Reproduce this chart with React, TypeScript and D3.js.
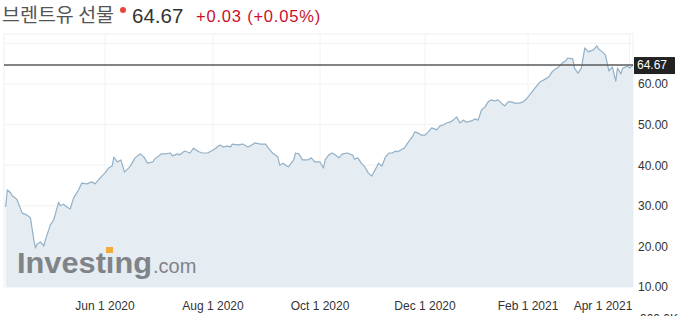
import React from 'react';
import * as d3 from 'd3';

const dates: string[] = [
  '2020-04-02','2020-04-03','2020-04-05','2020-04-06','2020-04-08','2020-04-09','2020-04-12','2020-04-15','2020-04-17','2020-04-19',
  '2020-04-20','2020-04-21','2020-04-23','2020-04-25','2020-04-26','2020-04-29','2020-05-01','2020-05-04','2020-05-05','2020-05-07',
  '2020-05-09','2020-05-11','2020-05-13','2020-05-16','2020-05-18','2020-05-21','2020-05-24','2020-05-26','2020-05-29','2020-06-01',
  '2020-06-03','2020-06-05','2020-06-06','2020-06-08','2020-06-10','2020-06-12','2020-06-15','2020-06-18','2020-06-21','2020-06-23',
  '2020-06-25','2020-06-28','2020-06-29','2020-07-03','2020-07-05','2020-07-08','2020-07-09','2020-07-12','2020-07-13','2020-07-16',
  '2020-07-19','2020-07-21','2020-07-24','2020-07-26','2020-07-29','2020-07-31','2020-08-02','2020-08-05','2020-08-07','2020-08-09',
  '2020-08-11','2020-08-12','2020-08-15','2020-08-18','2020-08-21','2020-08-23','2020-08-25','2020-08-28','2020-08-31','2020-09-01',
  '2020-09-04','2020-09-07','2020-09-08','2020-09-10','2020-09-12','2020-09-13','2020-09-16','2020-09-17','2020-09-19','2020-09-21',
  '2020-09-24','2020-09-26','2020-09-28','2020-10-01','2020-10-03','2020-10-04','2020-10-06','2020-10-08','2020-10-10','2020-10-12',
  '2020-10-14','2020-10-17','2020-10-18','2020-10-20','2020-10-21','2020-10-23','2020-10-25','2020-10-27','2020-10-29','2020-10-31',
  '2020-11-01','2020-11-03','2020-11-04','2020-11-06','2020-11-08','2020-11-10','2020-11-12','2020-11-14','2020-11-15','2020-11-18',
  '2020-11-19','2020-11-21','2020-11-24','2020-11-25','2020-11-27','2020-11-29','2020-12-01','2020-12-03','2020-12-05','2020-12-08',
  '2020-12-10','2020-12-12','2020-12-14','2020-12-16','2020-12-18','2020-12-20','2020-12-22','2020-12-24','2020-12-26','2020-12-29',
  '2020-12-31','2021-01-02','2021-01-04','2021-01-06','2021-01-08','2021-01-10','2021-01-12','2021-01-14','2021-01-16','2021-01-18',
  '2021-01-20','2021-01-22','2021-01-24','2021-01-27','2021-01-29','2021-01-31','2021-02-02','2021-02-05','2021-02-08','2021-02-11',
  '2021-02-13','2021-02-15','2021-02-17','2021-02-18','2021-02-21','2021-02-23','2021-02-24','2021-02-27','2021-02-28','2021-03-02',
  '2021-03-04','2021-03-06','2021-03-08','2021-03-11','2021-03-13','2021-03-14','2021-03-17','2021-03-18','2021-03-20','2021-03-22',
  '2021-03-24','2021-03-25','2021-03-27','2021-03-28','2021-03-31','2021-04-01','2021-04-03'
];

const prices: number[] = [
  29.7, 33.9, 33.2, 32.4, 31.9, 31.4, 28.2, 27.7, 27.0, 21.6,
  19.6, 20.6, 21.1, 20.1, 21.6, 25.3, 26.5, 30.9, 30.0, 30.4,
  29.7, 29.2, 31.9, 33.9, 35.6, 35.4, 35.9, 35.4, 36.8, 38.1,
  39.3, 39.8, 42.0, 40.8, 41.3, 38.3, 39.6, 41.8, 42.8, 42.0,
  40.5, 40.8, 41.5, 42.8, 42.8, 43.0, 42.3, 42.8, 42.5, 43.5,
  43.0, 44.2, 43.3, 43.0, 43.0, 43.5, 44.0, 45.0, 44.5, 44.7,
  44.5, 45.2, 45.0, 45.2, 44.5, 45.0, 45.5, 45.2, 45.2, 44.5,
  43.0, 42.0, 40.0, 40.5, 39.8, 39.6, 41.3, 43.0, 42.8, 41.3,
  41.3, 41.8, 40.8, 40.8, 39.3, 41.3, 42.5, 43.0, 42.5, 41.8,
  42.8, 43.0, 42.8, 42.5, 41.5, 41.8, 40.5, 39.6, 38.1, 37.3,
  38.1, 39.6, 40.5, 39.8, 42.0, 43.0, 43.0, 43.5, 43.3, 44.0,
  44.2, 45.5, 47.2, 48.2, 47.9, 47.4, 47.4, 48.2, 49.2, 48.7,
  49.7, 49.9, 50.4, 50.6, 51.1, 51.9, 50.4, 51.1, 50.6, 50.9,
  51.4, 51.1, 53.6, 54.3, 55.6, 56.1, 55.8, 56.1, 55.3, 54.6,
  55.6, 55.6, 55.3, 55.3, 55.6, 56.3, 57.3, 59.0, 60.5, 61.2,
  61.7, 63.0, 63.7, 63.9, 65.2, 65.7, 66.4, 66.2, 63.9, 62.7,
  63.9, 68.9, 67.9, 68.4, 69.4, 68.6, 67.6, 67.1, 63.2, 64.2,
  60.7, 63.9, 62.5, 63.9, 64.4, 63.9, 64.67
];

const xTickDates: string[] = ['2020-06-01', '2020-08-01', '2020-10-01', '2020-12-01', '2021-02-01', '2021-04-01'];
const xTickLabels: string[] = ['Jun 1 2020', 'Aug 1 2020', 'Oct 1 2020', 'Dec 1 2020', 'Feb 1 2021', 'Apr 1 2021'];
const yTicks: number[] = [10, 20, 30, 40, 50, 60];
const gridValues: number[] = [20, 30, 40, 50, 60, 70];
const lastPrice = 64.67;
const titleText = '브렌트유 선물';
const priceText = '64.67';
const changeText = '+0.03 (+0.05%)';
const volumeLabel = '300.0K';

const W = 680;
const H = 316;
const plotLeft = 4;
const plotRight = 633;
const plotTop = 34;
const plotBottom = 287;
const FONT = "Arial, 'Liberation Sans', sans-serif";

export default function App() {
  const parse = d3.timeParse('%Y-%m-%d');
  const data = dates.map((d, i) => ({ date: parse(d) as Date, value: prices[i] }));

  // piecewise time scale (trading-day spacing of the original chart)
  const x = d3
    .scaleTime()
    .domain([
      parse('2020-04-01') as Date,
      parse('2020-06-01') as Date,
      parse('2020-08-01') as Date,
      parse('2020-10-01') as Date,
      parse('2020-12-01') as Date,
      parse('2021-02-01') as Date,
      parse('2021-04-03') as Date,
    ])
    .range([plotLeft, 105, 213, 320, 425, 528, plotRight]);

  const y = d3.scaleLinear().domain([10, 60]).range([plotBottom, 84]);

  const line = d3
    .line<{ date: Date; value: number }>()
    .x((d) => x(d.date))
    .y((d) => y(d.value));
  const area = d3
    .area<{ date: Date; value: number }>()
    .x((d) => x(d.date))
    .y0(plotBottom)
    .y1((d) => y(d.value));

  const lastY = y(lastPrice);

  return (
    <svg
      width={W}
      height={H}
      style={{ position: 'absolute', left: 0, top: 0, background: '#fff' }}
      fontFamily={FONT}
    >
      {/* header */}
      <text x={2} y={22} fontSize={19.5} fill="#555" fontFamily="'Noto Sans CJK KR', sans-serif">
        {titleText}
      </text>
      <circle cx={123} cy={10} r={3} fill="#e8453c" />
      <text x={132} y={23} fontSize={20.5} fill="#333">
        {priceText}
      </text>
      <text x={196} y={22} fontSize={16.5} fill="#c8102e" letterSpacing={0.8}>
        {changeText}
      </text>

      {/* plot frame */}
      <rect x={plotLeft} y={plotTop} width={plotRight - plotLeft} height={plotBottom - plotTop} fill="#fff" stroke="#eef0f2" />

      {/* grid */}
      {gridValues.map((v) => (
        <line key={'g' + v} x1={plotLeft} x2={plotRight} y1={y(v)} y2={y(v)} stroke="#f0f2f4" strokeWidth={1} />
      ))}
      {xTickDates.map((d) => {
        const px = x(parse(d) as Date);
        return <line key={'v' + d} x1={px} x2={px} y1={plotTop} y2={plotBottom} stroke="#f0f2f4" strokeWidth={1} />;
      })}

      {/* area + line */}
      <path d={area(data) || ''} fill="#e5edf3" />
      <path d={line(data) || ''} fill="none" stroke="#93b0c7" strokeWidth={1.2} strokeLinejoin="round" />

      {/* watermark logo */}
      <g opacity={0.85}>
        <text x={17} y={273} fontSize={29} fontWeight="bold" fill="#6f7175" textLength={135} lengthAdjust="spacingAndGlyphs">
          Investıng
        </text>
        <rect x={106} y={247} width={7} height={6} fill="#f4a31d" />
        <text x={153} y={273} fontSize={20} fill="#6f7175">
          .com
        </text>
      </g>

      {/* last price line */}
      <line x1={plotLeft} x2={plotRight} y1={lastY} y2={lastY} stroke="#5a5a5a" strokeWidth={1.6} />
      <rect x={634} y={lastY - 8} width={41} height={17} fill="#222" />
      <text x={637} y={lastY} dy="0.36em" fontSize={12} fill="#fff">
        {lastPrice.toFixed(2)}
      </text>

      {/* y axis labels */}
      {yTicks.map((v) => (
        <text key={'y' + v} x={638} y={y(v)} dy="0.36em" fontSize={12} fill="#333">
          {v.toFixed(2)}
        </text>
      ))}
      <text x={640} y={323} fontSize={12} fill="#333">
        {volumeLabel}
      </text>

      {/* x axis labels */}
      {xTickDates.map((d, i) => {
        const px = x(parse(d) as Date);
        const half = 30;
        const cx = Math.min(px, plotRight - half);
        return (
          <text key={'x' + d} x={cx} y={310} textAnchor="middle" fontSize={12} fill="#333">
            {xTickLabels[i]}
          </text>
        );
      })}
    </svg>
  );
}
